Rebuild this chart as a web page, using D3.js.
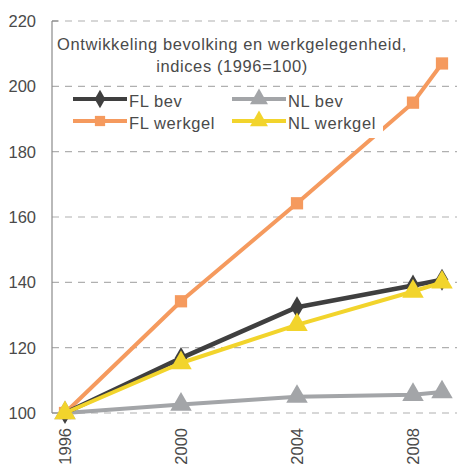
<!DOCTYPE html>
<html><head><meta charset="utf-8">
<script src="https://cdn.jsdelivr.net/npm/d3@7"></script>
<style>body{margin:0;background:#fff}svg{display:block;font-family:"Liberation Sans",Arial,sans-serif}</style>
</head><body>
<svg id="c" width="457" height="465"></svg>
<script>
const years = [1996, 2000, 2004, 2008, 2009];
const flBev = [100, 116.8, 132.4, 139, 140.8];
const nlBev = [100, 102.6, 105, 105.6, 106.4];
const flWerk = [100, 134.2, 164.2, 195, 207];
const nlWerk = [100, 115.3, 127, 137.2, 140];
const yTicks = [100, 120, 140, 160, 180, 200, 220];
const xTicks = [1996, 2000, 2004, 2008];
const titleLines = ["Ontwikkeling bevolking en werkgelegenheid,", "indices (1996=100)"];

const series = [
  {name:"FL bev", values:flBev, color:"#3f3f3f", marker:"diamond"},
  {name:"NL bev", values:nlBev, color:"#a3a5a8", marker:"triangle"},
  {name:"FL werkgel", values:flWerk, color:"#f59a5e", marker:"square"},
  {name:"NL werkgel", values:nlWerk, color:"#f2d42c", marker:"triangle"}
];
const drawOrder = [2, 1, 0, 3];

const svg = d3.select("#c");
const x = d3.scaleLinear().domain([1996, 2009]).range([65, 442]);
const y = d3.scaleLinear().domain([100, 220]).range([413, 21]);
const txt = "#4a4a4a";

// gridlines
svg.append("g").selectAll("line").data(yTicks).join("line")
  .attr("x1", 52).attr("x2", 457)
  .attr("y1", d => y(d)).attr("y2", d => y(d))
  .attr("stroke", "#b0b0b0").attr("stroke-width", 1.2).attr("stroke-dasharray", "7,6");
// y axis line
svg.append("line").attr("x1", 52).attr("x2", 52).attr("y1", y(220)).attr("y2", y(100))
  .attr("stroke", "#8a8a8a").attr("stroke-width", 1.2);
svg.append("g").selectAll("line").data([100, 220]).join("line")
  .attr("x1", 52).attr("x2", 58).attr("y1", d => y(d)).attr("y2", d => y(d))
  .attr("stroke", "#8a8a8a").attr("stroke-width", 1.2);

// y labels
svg.append("g").selectAll("text").data(yTicks).join("text")
  .attr("x", 36).attr("y", d => y(d)).attr("dy", "0.36em")
  .attr("text-anchor", "end").attr("font-size", 16.5).attr("fill", txt)
  .text(d => d);
// x labels
svg.append("g").selectAll("text").data(xTicks).join("text")
  .attr("transform", d => `translate(${x(d)},428) rotate(-90)`)
  .attr("dy", "0.36em").attr("text-anchor", "end").attr("font-size", 16.5).attr("fill", txt)
  .text(d => d);

function markerPath(type, size) {
  const sym = type === "diamond" ? d3.symbolDiamond : type === "triangle" ? d3.symbolTriangle : d3.symbolSquare;
  return d3.symbol().type(sym).size(size)();
}
const msize = {diamond: 140, triangle: 200, square: 150};
const lw = {diamond: 4.6, triangle: 4, square: 4};

const line = d3.line().x((d, i) => x(years[i])).y(d => y(d));
drawOrder.forEach(k => {
  const s = series[k];
  const g = svg.append("g");
  g.append("path").attr("d", line(s.values)).attr("fill", "none")
    .attr("stroke", s.color).attr("stroke-width", lw[s.marker]).attr("stroke-linejoin", "round");
  g.selectAll("path.m").data(s.values).join("path").attr("class", "m")
    .attr("transform", (d, i) => `translate(${x(years[i])},${y(d)})`)
    .attr("d", markerPath(s.marker, msize[s.marker])).attr("fill", s.color);
});

// legend box
svg.append("rect").attr("x", 64).attr("y", 90).attr("width", 319).attr("height", 48).attr("fill", "#fff");
const legPos = [[73, 99], [232, 99], [73, 121], [232, 121]];
series.forEach((s, i) => {
  const [lx, ly] = legPos[i];
  const g = svg.append("g");
  g.append("line").attr("x1", lx).attr("x2", lx + 54).attr("y1", ly).attr("y2", ly)
    .attr("stroke", s.color).attr("stroke-width", 4);
  g.append("path").attr("transform", `translate(${lx + 27},${ly})`)
    .attr("d", markerPath(s.marker, msize[s.marker] * 0.7)).attr("fill", s.color);
  g.append("text").attr("x", lx + 56).attr("y", ly + 8).attr("font-size", 16.5)
    .attr("letter-spacing", 0.6).attr("fill", txt).text(s.name);
});

// title
svg.append("g").selectAll("text").data(titleLines).join("text")
  .attr("x", 232).attr("y", (d, i) => 50 + i * 22).attr("text-anchor", "middle")
  .attr("font-size", 16.5).attr("letter-spacing", 0.6).attr("fill", txt).text(d => d);
</script>
</body></html>
